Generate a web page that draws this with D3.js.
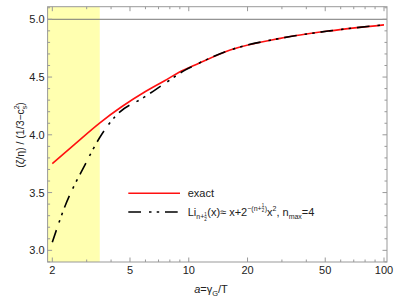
<!DOCTYPE html>
<html><head><meta charset="utf-8">
<script src="https://cdn.jsdelivr.net/npm/d3@7"></script>
<style>body{margin:0;background:#fff}svg{display:block}text{font-family:"Liberation Sans",Arial,sans-serif;fill:#222}</style>
</head><body><svg id="c" width="395" height="302"></svg>
<script>
// data
const aExact = [2, 2.61, 3.48, 4.53, 5.97, 7.56, 9.02, 10.77, 16.3, 29.4, 52.8, 100];
const vExact = [3.75, 3.92, 4.10, 4.243, 4.373, 4.47, 4.546, 4.604, 4.734, 4.835, 4.90, 4.952];
const aApprox = [2, 2.32, 2.94, 3.48, 4.19, 5.97, 7.56, 9.57, 10.77, 16.3, 29.4, 52.8, 100];
const vApprox = [3.07, 3.38, 3.74, 3.97, 4.157, 4.33, 4.446, 4.56, 4.604, 4.734, 4.835, 4.90, 4.952];
const xTicks = [2, 5, 10, 20, 50, 100];
const xMinor = [3, 4, 6, 7, 8, 9, 30, 40, 60, 70, 80, 90];
const yTicks = [3.0, 3.5, 4.0, 4.5, 5.0];
const yMinor = [2.9,3.1,3.2,3.3,3.4,3.6,3.7,3.8,3.9,4.1,4.2,4.3,4.4,4.6,4.7,4.8,4.9,5.1];
const bandEnd = 3.5;
const limitValue = 5.0;

const svg = d3.select("#c");
const L = 47.6, R = 387, T = 6.7, B = 262;
const x = d3.scaleLog().domain([1.892, 103.6]).range([L, R]);
const y = d3.scaleLinear().domain([2.899, 5.109]).range([B, T]);

svg.append("rect").attr("x", L).attr("y", T).attr("width", x(bandEnd) - L).attr("height", B - T).attr("fill", "#ffffb0");
svg.append("line").attr("x1", L).attr("x2", R).attr("y1", y(limitValue)).attr("y2", y(limitValue)).attr("stroke", "#777").attr("stroke-width", 1);
svg.append("rect").attr("x", L).attr("y", T).attr("width", R - L).attr("height", B - T).attr("fill", "none").attr("stroke", "#999").attr("stroke-width", 1);

const tk = svg.append("g").attr("stroke", "#999").attr("stroke-width", 1);
function xt(v, len) {
  tk.append("line").attr("x1", x(v)).attr("x2", x(v)).attr("y1", B).attr("y2", B - len);
  tk.append("line").attr("x1", x(v)).attr("x2", x(v)).attr("y1", T).attr("y2", T + len);
}
function yt(v, len) {
  tk.append("line").attr("y1", y(v)).attr("y2", y(v)).attr("x1", L).attr("x2", L + len);
  tk.append("line").attr("y1", y(v)).attr("y2", y(v)).attr("x1", R).attr("x2", R - len);
}
xTicks.forEach(v => xt(v, 4.5)); xMinor.forEach(v => xt(v, 2.5));
yTicks.forEach(v => yt(v, 4.5)); yMinor.forEach(v => yt(v, 2.5));

xTicks.forEach(v => svg.append("text").attr("x", x(v)).attr("y", B + 12).attr("text-anchor", "middle").attr("font-size", 11).text(v));
yTicks.forEach(v => svg.append("text").attr("x", L - 3).attr("y", y(v) + 4).attr("text-anchor", "end").attr("font-size", 11).text(v.toFixed(1)));

const line = d3.line().curve(d3.curveMonotoneX);
svg.append("path").attr("d", line(aExact.map((a, i) => [x(a), y(vExact[i])])))
  .attr("fill", "none").attr("stroke", "#ff1010").attr("stroke-width", 1.6);
const dash = "12.7,8,2.5,5.2,2.5,5.8";
svg.append("path").attr("d", line(aApprox.map((a, i) => [x(a), y(vApprox[i])])))
  .attr("fill", "none").attr("stroke", "#000").attr("stroke-width", 1.6).attr("stroke-dasharray", dash);

function rich(g, x0, y0, pieces) {
  let cx = x0;
  pieces.forEach(p => {
    if (p.frac) {
      const s = p.size;
      const t1 = g.append("text").attr("x", cx).attr("y", y0 + p.sh - s * 0.55).attr("font-size", s).text("1");
      const t2 = g.append("text").attr("x", cx).attr("y", y0 + p.sh + s * 0.6).attr("font-size", s).text("2");
      const w = Math.max(t1.node().getComputedTextLength(), t2.node().getComputedTextLength());
      g.append("line").attr("x1", cx).attr("x2", cx + w).attr("y1", y0 + p.sh - s * 0.35).attr("y2", y0 + p.sh - s * 0.35).attr("stroke", "#444").attr("stroke-width", 0.4);
      cx += w + 0.5;
      return;
    }
    const t = g.append("text").attr("x", cx).attr("y", y0 + (p.sh || 0)).attr("font-size", p.size || 11).text(p.t);
    if (p.it) t.attr("font-style", "italic");
    cx += t.node().getComputedTextLength() + (p.after || 0);
  });
  return cx;
}

svg.append("line").attr("x1", 128.3).attr("x2", 180).attr("y1", 193.3).attr("y2", 193.3).attr("stroke", "#ff1010").attr("stroke-width", 1.6);
svg.append("line").attr("x1", 128.3).attr("x2", 180).attr("y1", 212).attr("y2", 212).attr("stroke", "#000").attr("stroke-width", 1.6).attr("stroke-dasharray", dash);
const lg = svg.append("g");
lg.append("text").attr("x", 187.7).attr("y", 197).attr("font-size", 11).text("exact");
rich(lg, 187.7, 215.5, [
  {t: "Li"},
  {t: "n+", size: 7, sh: 3},
  {frac: true, size: 4.5, sh: 3},
  {t: "(x)\u2248 x+2"},
  {t: "\u2212(n+", size: 7, sh: -5},
  {frac: true, size: 4.5, sh: -6},
  {t: ")", size: 7, sh: -5},
  {t: " x"},
  {t: "2", size: 7, sh: -5},
  {t: ", n"},
  {t: "max", size: 7, sh: 3},
  {t: "=4"}
]);

const xl = svg.append("g");
const pcs = [{t: "a", it: true}, {t: "=\u03b3"}, {t: "G", size: 7.5, sh: 3}, {t: "/T"}];
const endx = rich(xl, 0, 293, pcs);
xl.attr("transform", `translate(${211 - endx / 2},0)`);

const yl = svg.append("g");
const ye = rich(yl, 0, 0, [
  {t: "(\u03b6/\u03b7) / (1/3\u2212c", size: 10.5},
  {t: "2", size: 7, sh: -5, after: -4},
  {t: "s", size: 7, sh: 3},
  {t: ")", size: 10.5}
]);
yl.attr("transform", `translate(24,${135 + ye / 2}) rotate(-90)`);
</script></body></html>
